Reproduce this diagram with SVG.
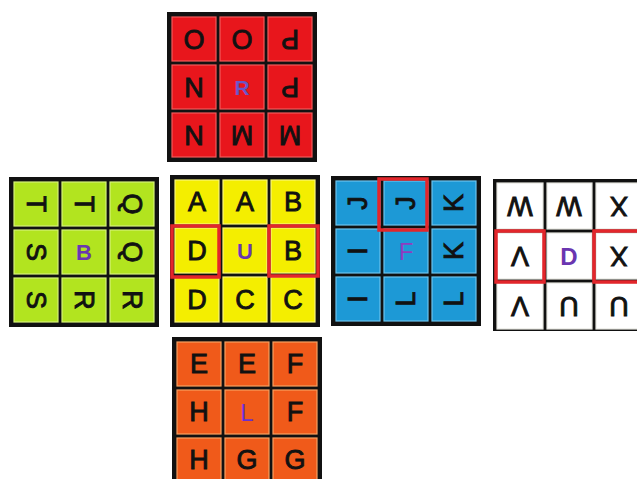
<svg xmlns="http://www.w3.org/2000/svg" width="637" height="479" viewBox="0 0 637 479">
<defs>
<style>
.frame{fill:#111;}
.c{stroke-width:1.2;}
.red .c{fill:#e8161c;stroke:#f25a5a;}
.grn .c{fill:#b2e41f;stroke:#d6f27a;}
.yel .c{fill:#f4ee00;stroke:#fbf77a;}
.blu .c{fill:#1d99d6;stroke:#6cc4ee;}
.wht .c{fill:#ffffff;stroke:#e6e6e0;}
.org .c{fill:#f05a1a;stroke:#f8a060;}
.t{font-family:"Liberation Sans",Arial,sans-serif;font-size:27px;font-weight:normal;fill:#111;stroke:#111;stroke-width:0.9;text-anchor:middle;dominant-baseline:central;}
.ctr{font-family:"Liberation Sans",Arial,sans-serif;font-size:22px;font-weight:bold;text-anchor:middle;dominant-baseline:central;fill:#6a36b0;}
.hl{fill:none;stroke:#e3262b;stroke-width:3.5;}
</style>
</defs>
<rect x="0" y="0" width="637" height="479" fill="#ffffff"/>

<g id="face-R" class="red" transform="translate(167,12)">
<rect class="frame" x="0" y="0" width="150" height="150"/>
<rect class="c" x="5" y="5" width="44" height="44"/><rect class="c" x="53" y="5" width="44" height="44"/><rect class="c" x="101" y="5" width="44" height="44"/>
<rect class="c" x="5" y="53" width="44" height="44"/><rect class="c" x="53" y="53" width="44" height="44"/><rect class="c" x="101" y="53" width="44" height="44"/>
<rect class="c" x="5" y="101" width="44" height="44"/><rect class="c" x="53" y="101" width="44" height="44"/><rect class="c" x="101" y="101" width="44" height="44"/>
<text class="t" x="27" y="27" transform="rotate(180 27 27)">O</text>
<text class="t" x="75" y="27" transform="rotate(180 75 27)">O</text>
<text class="t" x="123" y="27" transform="rotate(180 123 27)">P</text>
<text class="t" x="27" y="75" transform="rotate(180 27 75)">N</text>
<text class="ctr" x="75" y="75" style="fill:#6b55c8;font-size:21px">R</text>
<text class="t" x="123" y="75" transform="rotate(180 123 75)">P</text>
<text class="t" x="27" y="123" transform="rotate(180 27 123)">N</text>
<text class="t" x="75" y="123" transform="rotate(180 75 123)">M</text>
<text class="t" x="123" y="123" transform="rotate(180 123 123)">M</text>
</g>

<g id="face-B" class="grn" transform="translate(9,177)">
<rect class="frame" x="0" y="0" width="150" height="150"/>
<rect class="c" x="5" y="5" width="44" height="44"/><rect class="c" x="53" y="5" width="44" height="44"/><rect class="c" x="101" y="5" width="44" height="44"/>
<rect class="c" x="5" y="53" width="44" height="44"/><rect class="c" x="53" y="53" width="44" height="44"/><rect class="c" x="101" y="53" width="44" height="44"/>
<rect class="c" x="5" y="101" width="44" height="44"/><rect class="c" x="53" y="101" width="44" height="44"/><rect class="c" x="101" y="101" width="44" height="44"/>
<text class="t" x="27" y="27" transform="rotate(90 27 27)">T</text>
<text class="t" x="75" y="27" transform="rotate(90 75 27)">T</text>
<text class="t" x="123" y="27" transform="rotate(90 123 27)">Q</text>
<text class="t" x="27" y="75" transform="rotate(90 27 75)">S</text>
<text class="ctr" x="75" y="75">B</text>
<text class="t" x="123" y="75" transform="rotate(90 123 75)">Q</text>
<text class="t" x="27" y="123" transform="rotate(90 27 123)">S</text>
<text class="t" x="75" y="123" transform="rotate(90 75 123)">R</text>
<text class="t" x="123" y="123" transform="rotate(90 123 123)">R</text>
</g>

<g id="face-U" class="yel" transform="translate(170,175)">
<rect class="frame" x="0" y="0" width="150" height="152"/>
<rect class="c" x="5" y="5" width="44" height="44"/><rect class="c" x="53" y="5" width="44" height="44"/><rect class="c" x="101" y="5" width="44" height="44"/>
<rect class="c" x="5" y="53" width="44" height="45"/><rect class="c" x="53" y="53" width="44" height="45"/><rect class="c" x="101" y="53" width="44" height="45"/>
<rect class="c" x="5" y="102" width="44" height="45"/><rect class="c" x="53" y="102" width="44" height="45"/><rect class="c" x="101" y="102" width="44" height="45"/>
<text class="t" x="27" y="27">A</text>
<text class="t" x="75" y="27">A</text>
<text class="t" x="123" y="27">B</text>
<text class="t" x="27" y="76">D</text>
<text class="ctr" x="75" y="76">U</text>
<text class="t" x="123" y="76">B</text>
<text class="t" x="27" y="125">D</text>
<text class="t" x="75" y="125">C</text>
<text class="t" x="123" y="125">C</text>
</g>

<g id="face-F" class="blu" transform="translate(331,176)">
<rect class="frame" x="0" y="0" width="150" height="150"/>
<rect class="c" x="5" y="5" width="44" height="44"/><rect class="c" x="53" y="5" width="44" height="44"/><rect class="c" x="101" y="5" width="44" height="44"/>
<rect class="c" x="5" y="53" width="44" height="44"/><rect class="c" x="53" y="53" width="44" height="44"/><rect class="c" x="101" y="53" width="44" height="44"/>
<rect class="c" x="5" y="101" width="44" height="44"/><rect class="c" x="53" y="101" width="44" height="44"/><rect class="c" x="101" y="101" width="44" height="44"/>
<text class="t" x="27" y="27" transform="rotate(-90 27 27)">J</text>
<text class="t" x="75" y="27" transform="rotate(-90 75 27)">J</text>
<text class="t" x="123" y="27" transform="rotate(-90 123 27)">K</text>
<text class="t" x="27" y="75" transform="rotate(-90 27 75)">I</text>
<text class="ctr" x="75" y="75" style="fill:#8e3cc0;font-weight:normal;font-size:24px">F</text>
<text class="t" x="123" y="75" transform="rotate(-90 123 75)">K</text>
<text class="t" x="27" y="123" transform="rotate(-90 27 123)">I</text>
<text class="t" x="75" y="123" transform="rotate(-90 75 123)">L</text>
<text class="t" x="123" y="123" transform="rotate(-90 123 123)">L</text>
</g>

<g id="face-D" class="wht" transform="translate(493,179)">
<rect class="frame" x="0" y="0" width="150" height="152"/>
<rect class="c" x="4" y="4" width="46" height="46"/><rect class="c" x="54" y="4" width="45" height="46"/><rect class="c" x="103" y="4" width="46" height="46"/>
<rect class="c" x="4" y="54" width="46" height="46"/><rect class="c" x="54" y="54" width="45" height="46"/><rect class="c" x="103" y="54" width="46" height="46"/>
<rect class="c" x="4" y="104" width="46" height="46"/><rect class="c" x="54" y="104" width="45" height="46"/><rect class="c" x="103" y="104" width="46" height="46"/>
<text class="t" x="27" y="27" transform="rotate(180 27 27)">W</text>
<text class="t" x="76" y="27" transform="rotate(180 76 27)">W</text>
<text class="t" x="126" y="27" transform="rotate(180 126 27)">X</text>
<text class="t" x="27" y="77" transform="rotate(180 27 77)">V</text>
<text class="ctr" x="76" y="77" style="font-size:24px">D</text>
<text class="t" x="126" y="77" transform="rotate(180 126 77)">X</text>
<text class="t" x="27" y="127" transform="rotate(180 27 127)">V</text>
<text class="t" x="76" y="127" transform="rotate(180 76 127)">U</text>
<text class="t" x="126" y="127" transform="rotate(180 126 127)">U</text>
</g>

<g id="face-L" class="org" transform="translate(172,337)">
<rect class="frame" x="0" y="0" width="150" height="150"/>
<rect class="c" x="5" y="5" width="44" height="44"/><rect class="c" x="53" y="5" width="44" height="44"/><rect class="c" x="101" y="5" width="44" height="44"/>
<rect class="c" x="5" y="53" width="44" height="44"/><rect class="c" x="53" y="53" width="44" height="44"/><rect class="c" x="101" y="53" width="44" height="44"/>
<rect class="c" x="5" y="101" width="44" height="44"/><rect class="c" x="53" y="101" width="44" height="44"/><rect class="c" x="101" y="101" width="44" height="44"/>
<text class="t" x="27" y="27">E</text>
<text class="t" x="75" y="27">E</text>
<text class="t" x="123" y="27">F</text>
<text class="t" x="27" y="75">H</text>
<text class="ctr" x="75" y="75" style="fill:#6a2fd0;font-weight:normal;font-size:24px">L</text>
<text class="t" x="123" y="75">F</text>
<text class="t" x="27" y="123">H</text>
<text class="t" x="75" y="123">G</text>
<text class="t" x="123" y="123">G</text>
</g>

<g id="highlights">
<rect class="hl" x="172" y="226" width="47" height="51"/>
<rect class="hl" x="269" y="226" width="49" height="50"/>
<rect class="hl" x="379" y="179" width="48" height="51"/>
<rect class="hl" x="496" y="231" width="48" height="51"/>
<rect class="hl" x="594" y="231" width="50" height="51"/>
</g>
</svg>
